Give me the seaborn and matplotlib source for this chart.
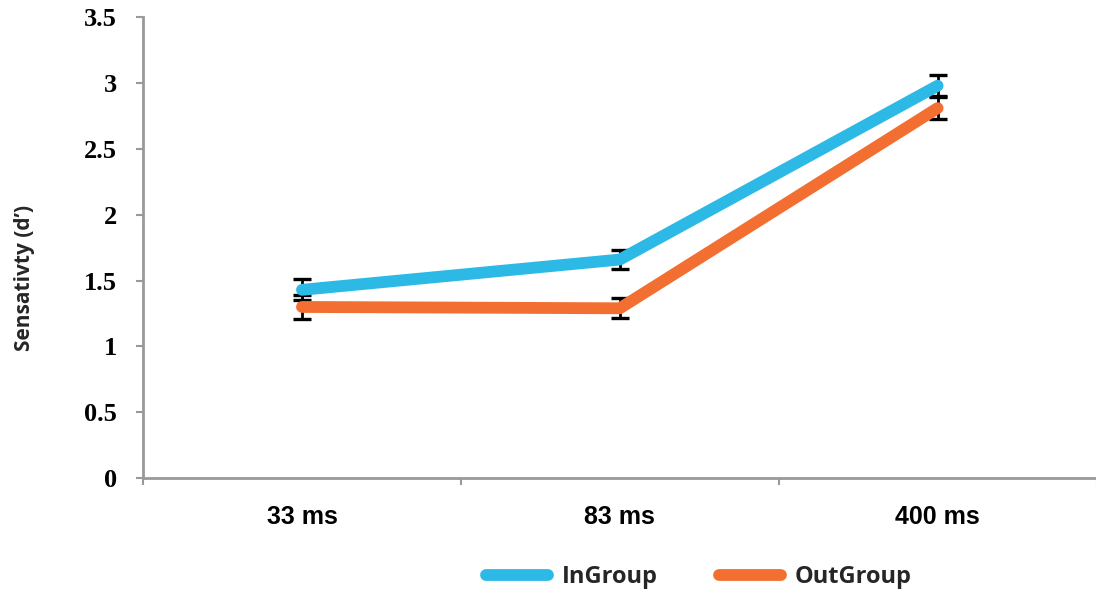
import matplotlib
matplotlib.use("Agg")
import matplotlib.pyplot as plt
import pandas as pd
import seaborn as sns

durations = ["33 ms", "83 ms", "400 ms"]
groups = ["InGroup", "OutGroup"]
ingroup = [1.43, 1.66, 2.98]
outgroup = [1.30, 1.29, 2.81]
ingroup_err = [0.08, 0.07, 0.08]
outgroup_err = [0.09, 0.075, 0.085]
colors = {"InGroup": "#2DB9E6", "OutGroup": "#F36F31"}

df = pd.DataFrame({
    "pos": list(range(len(durations))) * 2,
    "duration": durations * 2,
    "group": ["InGroup"] * 3 + ["OutGroup"] * 3,
    "value": ingroup + outgroup,
    "err": ingroup_err + outgroup_err,
})

sns.set_style("ticks")

fig = plt.figure(figsize=(10.96, 5.94), dpi=100)
ax = fig.add_axes([0.1305, 0.195, 0.87, 0.776])

for g in groups:
    d = df[df["group"] == g]
    ax.errorbar(d["pos"], d["value"], yerr=d["err"], fmt="none",
                ecolor="black", elinewidth=2, capsize=6.5, capthick=2.4, zorder=2)

sns.lineplot(data=df, x="pos", y="value", hue="group", palette=colors,
             hue_order=groups, linewidth=8.5, ax=ax, legend=False,
             solid_capstyle="round", zorder=3)

ax.set_xlim(-0.5, 2.5)
ax.set_ylim(0, 3.5)
ax.set_yticks([0, 0.5, 1, 1.5, 2, 2.5, 3, 3.5])
ax.set_yticklabels(["0", "0.5", "1", "1.5", "2", "2.5", "3", "3.5"],
                   family="Liberation Serif", fontweight="bold", fontsize=19,
                   color="black")
ax.set_xticks(range(len(durations)))
ax.set_xticklabels(durations, family="Liberation Sans",
                   fontweight="bold", fontsize=18, color="black")
ax.set_xticks([-0.5, 0.5, 1.5, 2.5], minor=True)
ax.tick_params(axis="x", which="major", length=0, pad=19, bottom=False)
ax.tick_params(axis="x", which="minor", length=5, width=1.5, color="#999999",
               direction="out", bottom=True)
ax.tick_params(axis="y", length=5, width=1.5, color="#999999",
               direction="out", pad=14, left=True)

for s in ["top", "right"]:
    ax.spines[s].set_visible(False)
for s in ["left", "bottom"]:
    ax.spines[s].set_color("#999999")
    ax.spines[s].set_linewidth(2)

ax.set_xlabel("")
ax.set_ylabel("Sensativty (d\u2019)", family="Open Sans", fontweight="bold",
              fontsize=15)
ax.yaxis.set_label_coords(-0.113, 0.434)

handles = [plt.Line2D([0], [0], color=colors[g], lw=8.5, solid_capstyle="round")
           for g in groups]
fig.legend(handles, groups, loc="center", bbox_to_anchor=(0.638, 0.028),
           ncol=2, frameon=False, handlelength=2.6, handletextpad=0.6,
           columnspacing=2.6,
           prop={"family": "Open Sans", "weight": "bold", "size": 17})

fig.savefig("out.png", dpi=100)
